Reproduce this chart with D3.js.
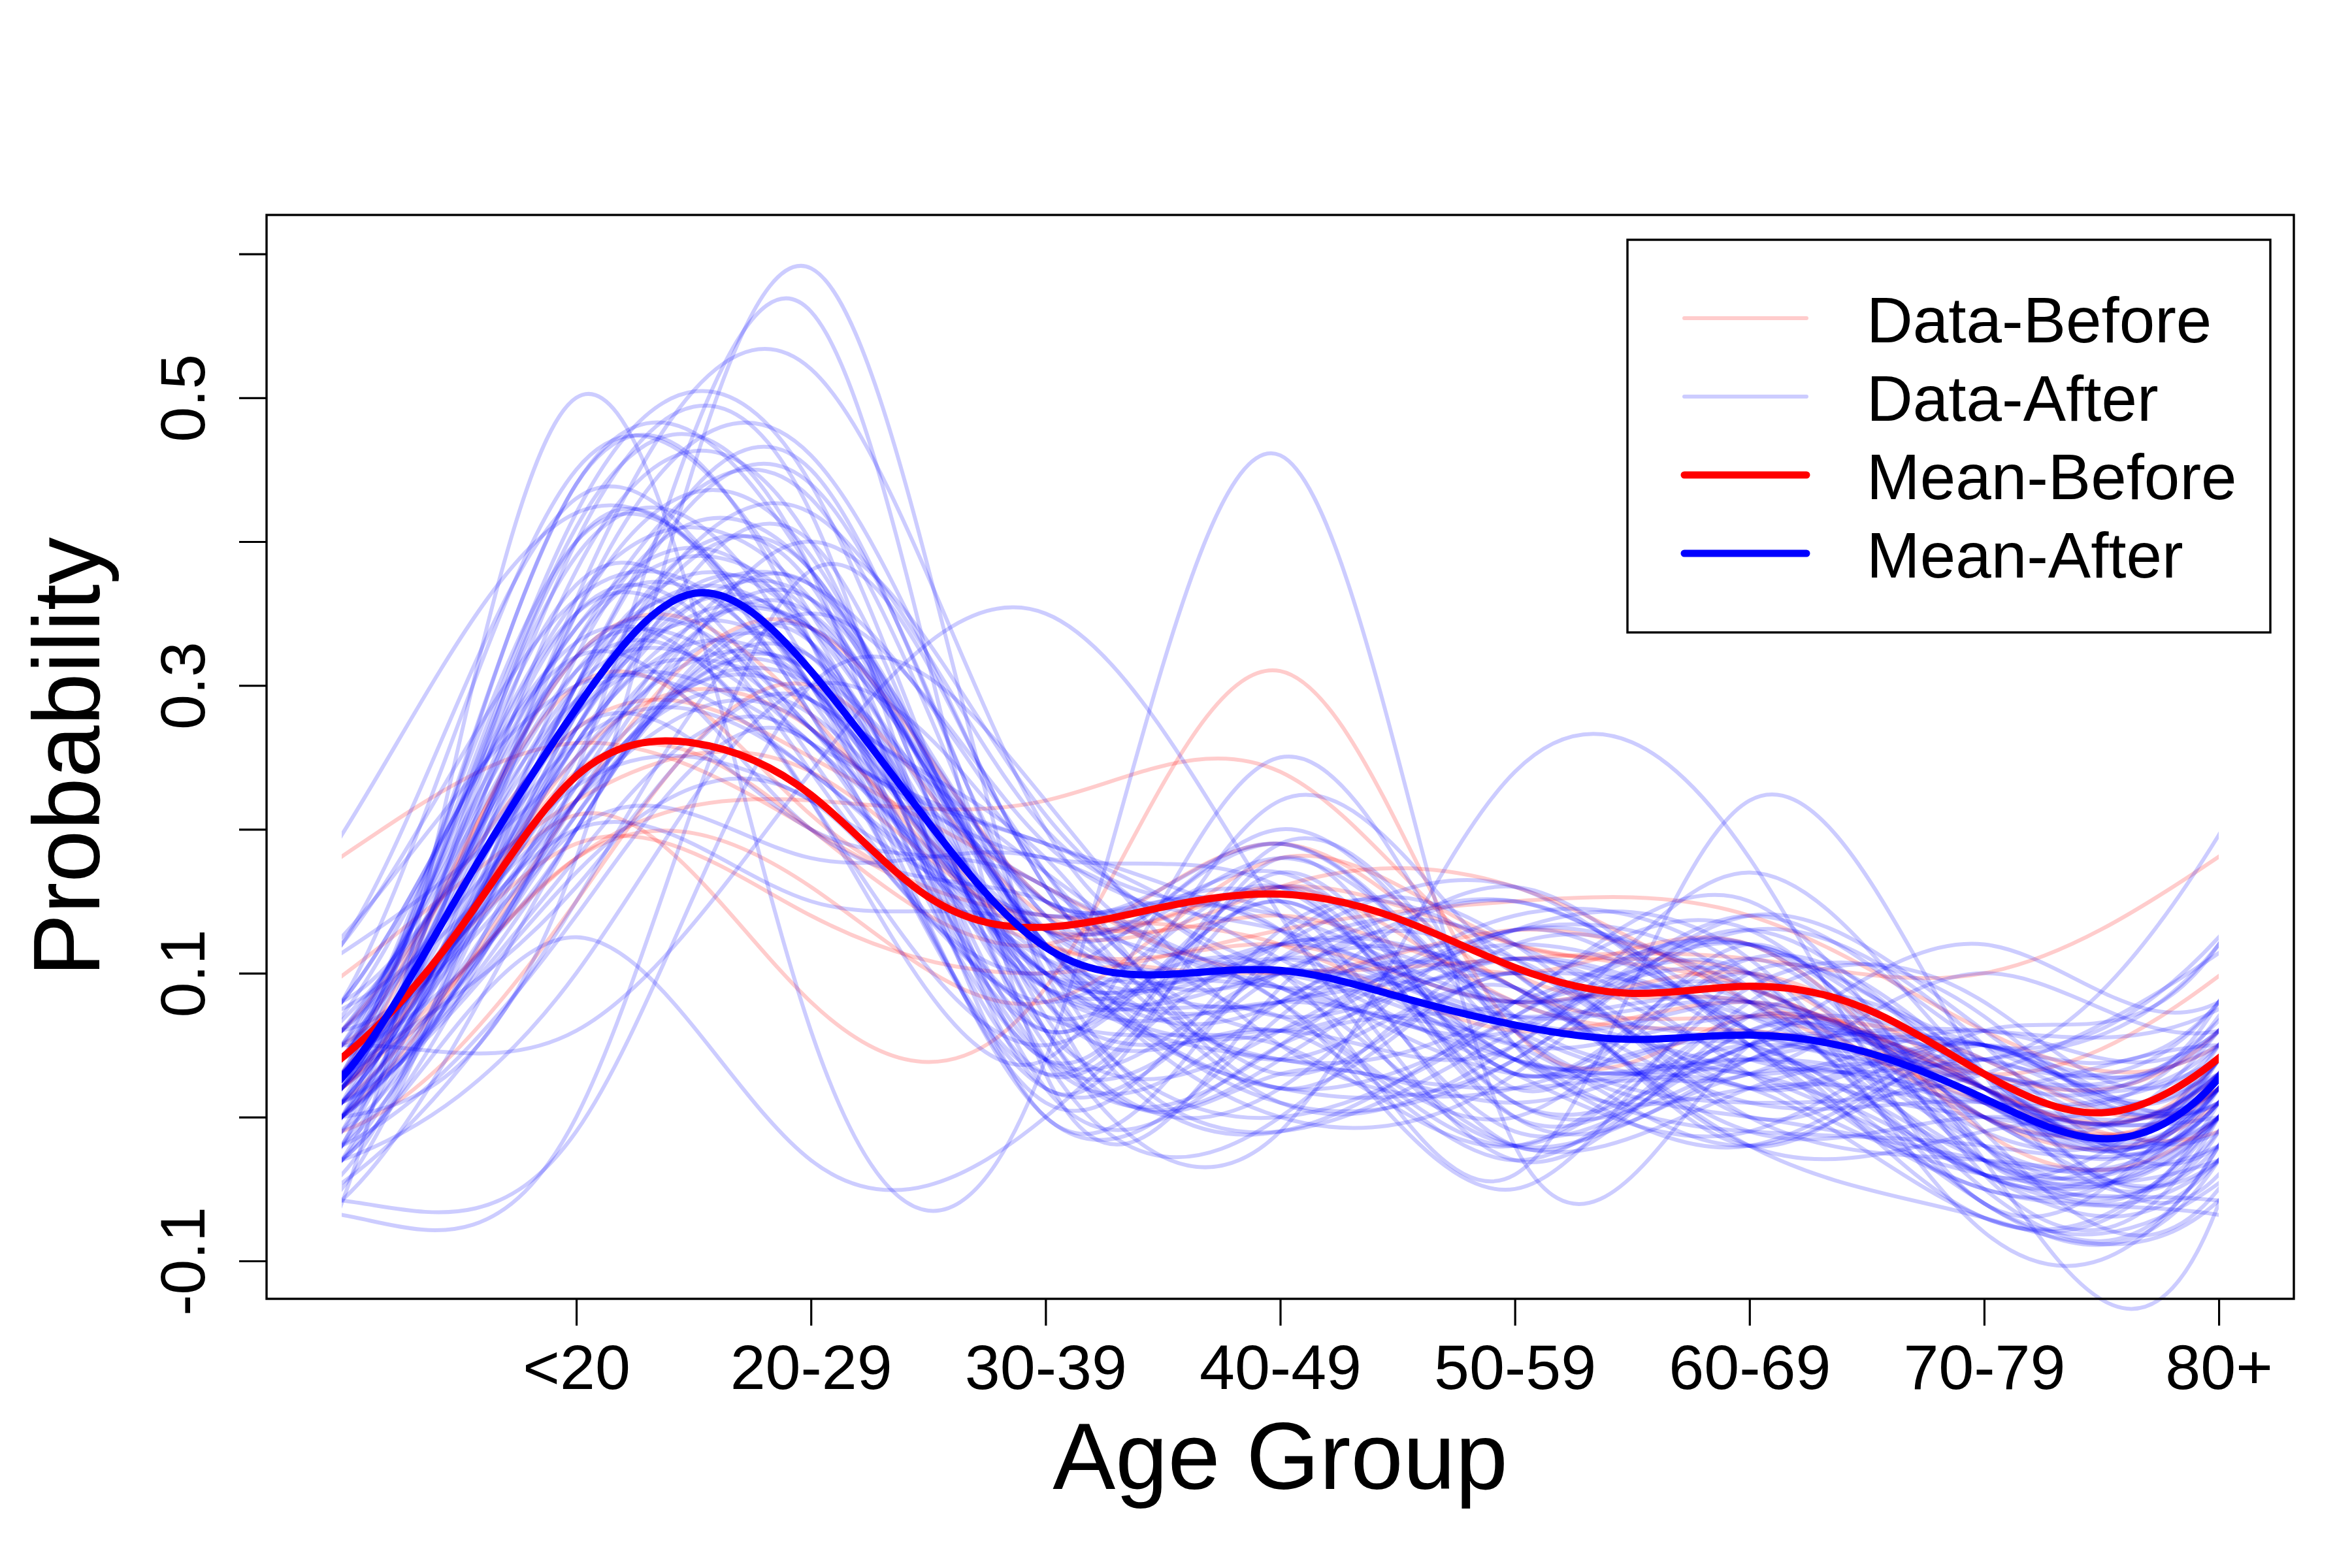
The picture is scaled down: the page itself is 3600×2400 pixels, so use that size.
<!DOCTYPE html>
<html><head><meta charset="utf-8">
<script src="https://cdn.jsdelivr.net/npm/d3@7"></script>
<style>body{margin:0;background:#fff} svg{display:block}</style>
</head><body>
<svg id="chart" width="3600" height="2400"></svg>
<script>
// ---------------- data ----------------
const ageGroups = ["<20","20-29","30-39","40-49","50-59","60-69","70-79","80+"];
const ageTickPositions = [1,2,3,4,5,6,7,8];
const yTicks = [-0.1,0,0.1,0.2,0.3,0.4,0.5,0.6];
const yTickLabels = ["-0.1","","0.1","","0.3","","0.5",""];
const PERIOD = 8;                       // curves are periodic: value at 8 equals value at 0
const knotX = [0,1,2,3,4,5,6,7];
const meanKnotX = [0,0.5,1,1.5,2,2.5,3,3.5,4,4.5,5,5.5,6,6.5,7,7.5];

const dataBefore = [
  [0.03,0.21,0.08,0.09,0.31,0.06,0.07,0.02],
  [0.02,0.18,0.22,0.22,0.24,0.10,0.08,0.00],
  [0.181,0.26,0.20,0.12,0.10,0.11,0.11,0.10],
  [0.098,0.22,0.24,0.13,0.16,0.12,0.09,0.03],
  [0.03,0.32,0.28,0.12,0.12,0.08,0.10,0.02],
  [0.00,0.22,0.34,0.15,0.14,0.10,0.12,-0.01],
  [0.02,0.25,0.27,0.13,0.16,0.16,0.08,0.01],
  [0.05,0.19,0.14,0.10,0.13,0.15,0.14,0.06],
  [0.01,0.18,0.16,0.08,0.18,0.12,0.10,0.00],
  [-0.01,0.15,0.30,0.14,0.16,0.08,0.06,0.02],
  [0.06,0.27,0.25,0.16,0.10,0.13,0.09,0.03],
  [0.02,0.24,0.20,0.12,0.19,0.09,0.07,0.04],
  [0.04,0.30,0.21,0.14,0.12,0.06,0.08,0.02]
];

const dataAfter = [
  [-0.06,0.50,0.06,0.04,0.46,-0.02,0.05,-0.03],
  [0.00,0.18,0.59,0.09,0.03,0.01,0.05,0.01],
  [0.03,0.24,0.56,0.03,0.09,0.10,-0.02,-0.01],
  [0.02,0.36,0.52,0.20,0.10,0.04,-0.02,0.04],
  [0.05,0.42,0.44,0.08,0.06,-0.03,0.08,0.08],
  [0.00,0.40,0.42,0.02,0.18,0.02,0.12,-0.04],
  [0.08,0.45,0.35,0.12,0.00,0.03,0.14,0.06],
  [-0.03,0.35,0.46,0.16,0.08,0.12,0.06,-0.06],
  [0.12,0.43,0.30,0.18,0.02,0.10,0.00,0.06],
  [0.01,0.30,0.45,0.14,0.20,0.06,0.00,-0.03],
  [0.04,0.41,0.38,0.00,0.12,0.12,0.02,0.05],
  [-0.02,0.38,0.40,0.05,0.05,0.14,0.10,-0.05],
  [0.06,0.33,0.43,0.10,-0.01,0.08,0.13,0.00],
  [0.02,0.44,0.33,0.06,0.16,0.00,0.04,0.03],
  [0.00,0.28,0.42,0.20,0.14,0.08,0.09,-0.02],
  [0.07,0.36,0.36,0.15,0.15,-0.02,0.06,0.02],
  [-0.04,0.32,0.38,0.12,0.12,0.16,0.06,0.02],
  [0.03,0.39,0.31,0.04,0.10,0.05,0.07,0.01],
  [0.01,0.27,0.37,0.17,0.04,0.09,-0.02,0.05],
  [0.05,0.34,0.33,0.03,0.16,0.03,0.10,-0.03],
  [-0.01,0.40,0.28,0.14,0.13,-0.03,0.07,0.03],
  [0.02,0.25,0.40,0.06,0.04,0.13,0.11,-0.04],
  [0.04,0.37,0.27,0.19,0.11,0.03,-0.01,0.05],
  [-0.05,0.30,0.34,0.09,0.00,0.07,0.12,-0.01],
  [0.06,0.31,0.30,0.01,0.13,0.11,0.03,0.06],
  [0.00,0.22,0.36,0.15,0.19,0.05,-0.01,-0.02],
  [0.03,0.35,0.25,0.07,0.05,-0.02,0.09,0.07],
  [0.02,0.28,0.29,0.17,0.09,0.11,0.05,-0.05],
  [0.08,0.33,0.22,0.05,0.15,0.01,0.05,0.04],
  [-0.02,0.24,0.31,0.13,0.01,0.04,0.13,0.05],
  [0.04,0.29,0.26,0.19,0.13,0.07,0.08,-0.01],
  [0.01,0.20,0.33,0.04,0.08,0.09,-0.01,0.00],
  [0.05,0.26,0.24,0.11,0.11,0.15,0.07,0.03],
  [-0.03,0.22,0.28,0.10,0.04,0.02,0.04,0.00],
  [0.02,0.27,0.20,0.16,0.03,0.10,0.02,0.05],
  [0.00,0.18,0.26,0.03,0.17,0.03,0.11,-0.03],
  [0.06,0.23,0.22,0.14,0.14,-0.01,0.05,0.03],
  [0.03,0.16,0.29,0.06,0.06,0.13,0.09,-0.04],
  [-0.01,0.20,0.18,0.18,0.09,0.05,-0.02,0.03],
  [0.125,0.30,0.24,0.11,0.02,0.07,0.12,0.05],
  [0.12,0.36,0.28,0.02,0.11,0.12,0.04,0.04],
  [0.114,0.25,0.35,0.13,0.18,0.06,0.01,0.03],
  [0.196,0.42,0.30,0.09,0.07,-0.02,0.07,0.04],
  [0.08,0.32,0.20,0.15,0.07,0.11,0.07,0.05],
  [0.075,0.22,0.27,0.07,0.15,0.01,0.04,0.06],
  [0.067,0.28,0.34,0.12,0.02,0.04,0.13,0.03],
  [-0.046,0.15,0.35,0.19,0.13,0.08,0.08,-0.06],
  [-0.058,0.20,0.30,0.04,0.10,0.09,-0.02,-0.07],
  [-0.068,0.00,0.38,0.16,0.10,0.15,0.05,-0.05],
  [-0.058,-0.01,0.30,0.22,0.05,0.02,0.05,-0.04],
  [-0.03,0.125,-0.03,0.00,0.12,0.08,0.03,-0.04],
  [0.05,0.06,0.24,0.35,0.14,-0.02,0.03,0.02],
  [0.03,0.22,0.32,0.06,-0.01,0.24,0.18,-0.06],
  [-0.02,0.26,0.30,0.10,0.10,-0.04,0.22,0.03],
  [0.02,0.33,0.35,0.15,0.08,-0.05,0.10,0.02],
  [0.00,0.28,0.38,0.04,0.00,0.12,0.08,-0.03],
  [-0.02,0.30,0.33,0.10,0.12,0.08,0.10,-0.08],
  [0.00,0.26,0.36,0.12,0.08,0.10,0.06,-0.07],
  [0.01,0.34,0.29,0.09,0.11,0.04,0.02,-0.07],
  [0.03,0.24,0.32,0.08,0.06,0.05,0.17,0.03],
  [0.00,0.30,0.26,0.12,0.04,0.08,0.15,-0.02],
  [0.05,0.21,0.34,0.14,0.09,0.06,0.14,0.05],
  [0.08,0.29,0.31,0.09,0.08,0.04,0.05,0.12],
  [0.06,0.23,0.37,0.11,0.10,0.06,0.03,0.10],
  [0.02,0.31,0.22,0.04,0.25,0.05,0.02,0.00],
  [0.01,0.27,0.33,0.06,0.22,0.10,0.05,-0.03],
  [0.04,0.35,0.24,0.10,0.19,0.07,0.08,0.01],
  [0.00,0.22,0.30,0.13,0.17,0.04,0.06,-0.02],
  [0.03,0.26,0.34,0.12,0.08,0.16,0.05,0.00],
  [0.02,0.32,0.27,0.10,0.06,0.13,0.09,0.02],
  [0.04,0.20,0.40,0.21,0.10,0.03,0.04,0.01],
  [-0.02,0.14,0.26,0.00,0.07,0.11,0.00,-0.03],
  [0.01,0.17,0.22,0.08,0.16,0.00,0.06,0.04],
  [0.03,0.20,0.15,0.13,0.01,0.05,0.12,0.02],
  [-0.03,0.10,0.30,0.17,0.06,0.11,0.03,-0.04],
  [0.01,0.30,0.44,0.11,-0.01,0.06,0.10,0.00],
  [-0.03,0.27,0.34,0.04,0.19,0.07,0.03,-0.04],
  [0.04,0.40,0.30,0.16,0.08,0.00,0.11,0.03],
  [0.02,0.23,0.29,0.10,0.12,0.09,0.01,0.01],
  [0.01,0.35,0.39,0.07,0.02,0.13,0.06,0.02],
  [0.06,0.32,0.27,0.18,0.16,0.04,0.04,0.05],
  [-0.01,0.29,0.37,0.02,0.05,0.08,0.12,-0.02],
  [0.03,0.44,0.38,0.13,0.09,-0.02,0.02,0.02],
  [0.00,0.21,0.31,0.09,0.11,0.07,0.08,0.01]
];

const meanBefore = [0.041,0.13,0.237,0.26,0.224,0.153,0.132,0.146,0.155,0.138,0.104,0.086,0.091,0.075,0.030,0.003];
const meanAfter  = [0.027,0.155,0.284,0.364,0.31,0.205,0.118,0.099,0.102,0.084,0.064,0.054,0.057,0.045,0.013,-0.015];

const legendLabels = ["Data-Before","Data-After","Mean-Before","Mean-After"];
const legendColors = ["rgba(255,0,0,0.2)","rgba(0,0,255,0.2)","#ff0000","#0000ff"];
const legendWidths = [6,6,11,11];

// ---------------- drawing ----------------
const FONT = "'Liberation Sans', Arial, Helvetica, sans-serif";
const W = 3600, H = 2400;
const plot = {left: 408, right: 3511, top: 329, bottom: 1988};
const svg = d3.select("#chart");
svg.append("rect").attr("width", W).attr("height", H).attr("fill", "#fff");

const x = d3.scaleLinear().domain([-0.32, 8.32]).range([plot.left, plot.right]);
const y = d3.scaleLinear().domain([-0.12634, 0.62706]).range([plot.bottom, plot.top]);

function periodicPoints(xs, vs, pad) {
  const n = xs.length, pts = [];
  for (let k = -pad; k <= n + pad; k++) {
    const i = ((k % n) + n) % n;
    const shift = Math.floor(k / n) * PERIOD;
    pts.push([xs[i] + shift, vs[i]]);
  }
  return pts;
}

const line = d3.line().x(d => x(d[0])).y(d => y(d[1])).curve(d3.curveNatural);

svg.append("defs").append("clipPath").attr("id", "clipData")
  .append("rect").attr("x", x(0)).attr("y", 0).attr("width", x(PERIOD) - x(0)).attr("height", H);

const gData = svg.append("g").attr("clip-path", "url(#clipData)")
  .attr("fill", "none").attr("stroke-linecap", "round").attr("stroke-linejoin", "round");

gData.append("g").selectAll("path").data(dataBefore).join("path")
  .attr("d", d => line(periodicPoints(knotX, d, 3)))
  .attr("stroke", legendColors[0]).attr("stroke-width", legendWidths[0]);

gData.append("g").selectAll("path").data(dataAfter).join("path")
  .attr("d", d => line(periodicPoints(knotX, d, 3)))
  .attr("stroke", legendColors[1]).attr("stroke-width", legendWidths[1]);

gData.append("path").attr("d", line(periodicPoints(meanKnotX, meanBefore, 5)))
  .attr("stroke", legendColors[2]).attr("stroke-width", legendWidths[2]);
gData.append("path").attr("d", line(periodicPoints(meanKnotX, meanAfter, 5)))
  .attr("stroke", legendColors[3]).attr("stroke-width", legendWidths[3]);

// box
svg.append("rect").attr("x", plot.left).attr("y", plot.top)
  .attr("width", plot.right - plot.left).attr("height", plot.bottom - plot.top)
  .attr("fill", "none").attr("stroke", "#000").attr("stroke-width", 3.4);

// x axis
const gx = svg.append("g").attr("transform", `translate(0,${plot.bottom})`)
  .call(d3.axisBottom(x).tickValues(ageTickPositions).tickFormat((d, i) => ageGroups[i]).tickSize(41).tickSizeOuter(0));
gx.select(".domain").remove();
gx.selectAll("line").attr("stroke", "#000").attr("stroke-width", 3.2);
gx.selectAll("text").attr("y", 2126 - plot.bottom).attr("dy", null)
  .attr("font-size", 97).attr("font-family", FONT).attr("fill", "#000");

// y axis
const gy = svg.append("g").attr("transform", `translate(${plot.left},0)`)
  .call(d3.axisLeft(y).tickValues(yTicks).tickFormat((d, i) => yTickLabels[i]).tickSize(42).tickSizeOuter(0));
gy.select(".domain").remove();
gy.selectAll("line").attr("stroke", "#000").attr("stroke-width", 3.2);
gy.selectAll("text").attr("x", 0).attr("dy", null).attr("text-anchor", "middle")
  .attr("transform", `translate(${313 - plot.left},0) rotate(-90)`)
  .attr("font-size", 97).attr("font-family", FONT).attr("fill", "#000");

// axis titles
svg.append("text").attr("x", (plot.left + plot.right) / 2).attr("y", 2279)
  .attr("text-anchor", "middle").attr("font-size", 144).attr("font-family", FONT).text("Age Group");
svg.append("text").attr("transform", `translate(152,${(plot.top + plot.bottom) / 2}) rotate(-90)`)
  .attr("text-anchor", "middle").attr("font-size", 144).attr("font-family", FONT).text("Probability");

// legend
const lg = svg.append("g");
lg.append("rect").attr("x", 2491).attr("y", 367).attr("width", 3475 - 2491).attr("height", 968 - 367)
  .attr("fill", "#fff").attr("stroke", "#000").attr("stroke-width", 3.4);
const rows = lg.selectAll("g.row").data(legendLabels).join("g").attr("class", "row")
  .attr("transform", (d, i) => `translate(0,${487 + i * 120})`);
rows.append("line").attr("x1", 2578).attr("x2", 2765).attr("y1", 0).attr("y2", 0)
  .attr("stroke", (d, i) => legendColors[i]).attr("stroke-width", (d, i) => legendWidths[i])
  .attr("stroke-linecap", "round");
rows.append("text").attr("x", 2857).attr("y", 37).attr("font-size", 98).attr("font-family", FONT)
  .attr("fill", "#000").text(d => d);
</script>
</body></html>
